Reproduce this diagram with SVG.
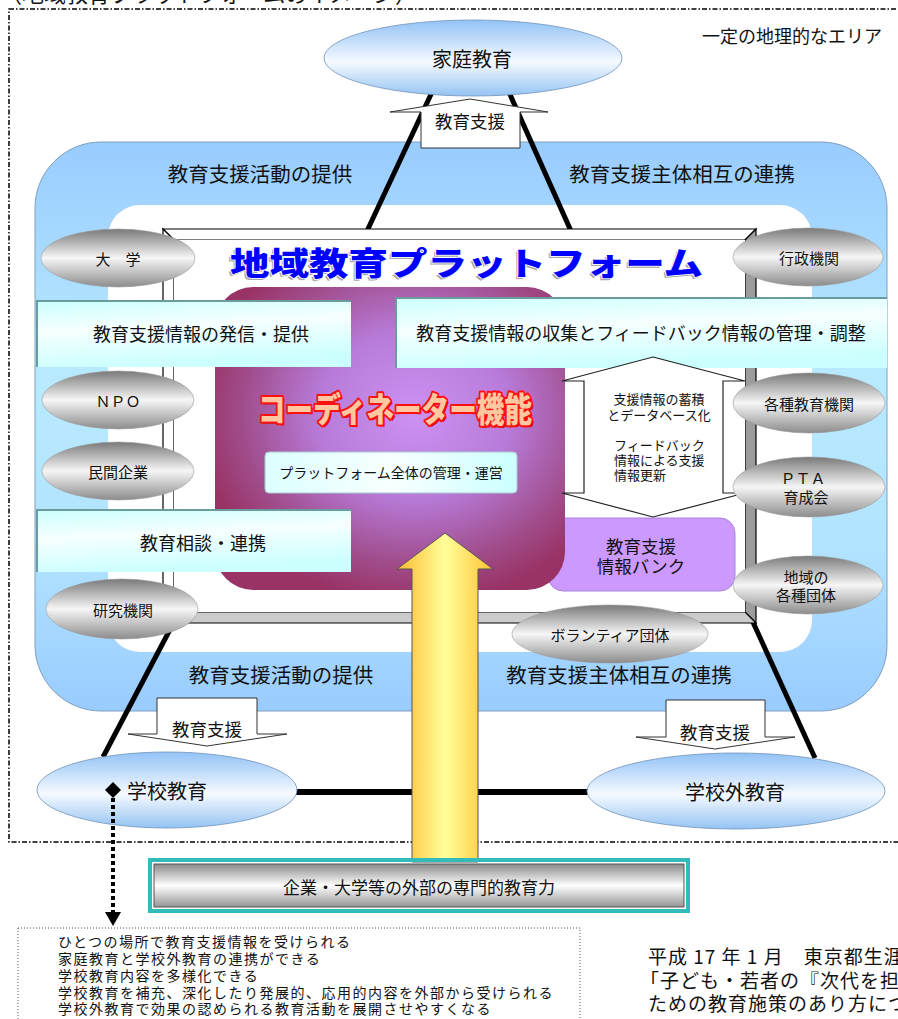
<svg xmlns="http://www.w3.org/2000/svg" width="898" height="1019" viewBox="0 0 898 1019">
<defs>
  <linearGradient id="gBlueEll" x1="0" y1="0" x2="0" y2="1">
    <stop offset="0" stop-color="#92c2f6"/>
    <stop offset="0.55" stop-color="#f6faff"/>
    <stop offset="1" stop-color="#94c3f3"/>
  </linearGradient>
  <linearGradient id="gGray" x1="0" y1="0" x2="0" y2="1">
    <stop offset="0" stop-color="#7a7a7a"/>
    <stop offset="0.5" stop-color="#f6f6f6"/>
    <stop offset="1" stop-color="#8c8c8c"/>
  </linearGradient>
  <linearGradient id="gArea" x1="0" y1="0" x2="0" y2="1">
    <stop offset="0" stop-color="#99ccff"/>
    <stop offset="0.4" stop-color="#b8eaff"/>
    <stop offset="0.7" stop-color="#b3e4ff"/>
    <stop offset="1" stop-color="#99ccff"/>
  </linearGradient>
  <linearGradient id="gBanner" x1="0" y1="0" x2="0.25" y2="1">
    <stop offset="0" stop-color="#ccffff"/>
    <stop offset="0.45" stop-color="#f6ffff"/>
    <stop offset="1" stop-color="#ccffff"/>
  </linearGradient>
  <linearGradient id="gMgmt" x1="0" y1="0" x2="1" y2="0">
    <stop offset="0" stop-color="#dcffff"/>
    <stop offset="0.5" stop-color="#f8ffff"/>
    <stop offset="1" stop-color="#ccffff"/>
  </linearGradient>
  <radialGradient id="gCoord" cx="0.57" cy="0.42" r="0.62">
    <stop offset="0" stop-color="#cc92f2"/>
    <stop offset="0.45" stop-color="#b77ad8"/>
    <stop offset="0.8" stop-color="#a04c8a"/>
    <stop offset="1" stop-color="#993366"/>
  </radialGradient>
  <linearGradient id="gYellow" x1="0" y1="0" x2="1" y2="0">
    <stop offset="0" stop-color="#ffb830"/>
    <stop offset="0.5" stop-color="#ffff99"/>
    <stop offset="1" stop-color="#ffc030"/>
  </linearGradient>
  <linearGradient id="gMetal" x1="0" y1="0" x2="0" y2="1">
    <stop offset="0" stop-color="#8a8a8a"/>
    <stop offset="0.5" stop-color="#ffffff"/>
    <stop offset="1" stop-color="#959595"/>
  </linearGradient>
  <style>
    .t { font-family: "Noto Sans CJK JP", "Noto Sans CJK SC", sans-serif; fill: #111; }
    .c { text-anchor: middle; dominant-baseline: central; }
    .blueEll { fill: url(#gBlueEll); stroke: #6f92b8; stroke-width: 0.8; }
    .grayEll { fill: url(#gGray); stroke: #9a9a9a; stroke-width: 0.6; }
    .banner { fill: url(#gBanner); }
    .bannerEdge { fill: none; stroke: #6a9c9c; stroke-width: 2; }
    .conn { stroke: #000; stroke-width: 5; fill: none; }
    .blockArrow { fill: #fff; stroke: #333; stroke-width: 1; }
    .n15 { font-size: 15px; }
    .merit { font-size: 14px; letter-spacing: 1.5px; dominant-baseline: central; }
  </style>
</defs>

<!-- area frame -->
<rect x="9" y="9" width="905" height="833" fill="none" stroke="#000" stroke-width="1.5" stroke-dasharray="5 2 1.5 2"/>
<text class="t" x="0" y="1.5" font-size="22">（地域教育プラットフォームのイメージ）</text>
<text class="t c" x="792" y="35" font-size="18">一定の地理的なエリア</text>

<!-- blue area -->
<g id="area">
  <rect x="35" y="142" width="852" height="569" rx="66" ry="66" fill="url(#gArea)" stroke="#7f9fbf" stroke-width="1"/>
  <rect x="108" y="205" width="704" height="447" rx="32" ry="32" fill="#fff"/>
  <text class="t c" x="260" y="173" font-size="20.5">教育支援活動の提供</text>
  <text class="t c" x="682" y="173" font-size="20.5">教育支援主体相互の連携</text>
  <text class="t c" x="281" y="674" font-size="20.5">教育支援活動の提供</text>
  <text class="t c" x="619" y="674" font-size="20.5">教育支援主体相互の連携</text>
</g>

<!-- connectors -->
<g id="connectors">
  <line class="conn" x1="433" y1="90" x2="367" y2="231"/>
  <line class="conn" x1="508" y1="90" x2="571" y2="231"/>
  <line class="conn" x1="175" y1="620" x2="103" y2="757"/>
  <line class="conn" x1="752" y1="620" x2="815" y2="758"/>
  <line x1="296" y1="792" x2="590" y2="792" stroke="#000" stroke-width="6"/>
</g>

<!-- platform frame -->
<g id="platform">
  <polygon points="163,229 756,229 745,240 174,240" fill="#fff" stroke="#000" stroke-width="1.2"/>
  <polygon points="163,229 174,240 174,612 163,623" fill="#fff" stroke="#000" stroke-width="1.2"/>
  <polygon points="756,229 756,623 745,612 745,240" fill="#9c9c9c" stroke="#000" stroke-width="1.2"/>
  <polygon points="163,623 756,623 745,612 174,612" fill="#cccccc" stroke="#000" stroke-width="1.2"/>
  <rect x="174" y="240" width="571" height="372" fill="#fff"/>
  <text x="228" y="277" font-family="'Noto Sans CJK JP', sans-serif" font-size="32" font-weight="900" fill="#a8a8a8" textLength="473" lengthAdjust="spacingAndGlyphs">地域教育プラットフォーム</text>
  <text x="230" y="275" font-family="'Noto Sans CJK JP', sans-serif" font-size="32" font-weight="900" fill="#0000ff" stroke="#ffffff" stroke-width="1.5" paint-order="stroke" textLength="473" lengthAdjust="spacingAndGlyphs">地域教育プラットフォーム</text>
</g>

<!-- information bank -->
<g id="bank">
  <rect x="548" y="518" width="187" height="73" rx="15" ry="15" fill="#cc99ff" stroke="#a784d8" stroke-width="1"/>
  <text class="t" font-size="17.5" text-anchor="middle" dominant-baseline="central"><tspan x="641" y="545">教育支援</tspan><tspan x="641" y="565">情報バンク</tspan></text>
</g>

<!-- coordinator -->
<g id="coordinator">
  <rect x="215" y="287" width="350" height="303" rx="38" ry="38" fill="url(#gCoord)"/>
  <text x="260" y="424" font-family="'Noto Sans CJK JP', sans-serif" font-size="34" font-weight="900" fill="#c00000" textLength="274" lengthAdjust="spacingAndGlyphs">コーディネーター機能</text>
  <text x="258" y="422" font-family="'Noto Sans CJK JP', sans-serif" font-size="34" font-weight="900" fill="#ffc8a0" stroke="#ff1010" stroke-width="4" paint-order="stroke" stroke-linejoin="round" textLength="274" lengthAdjust="spacingAndGlyphs">コーディネーター機能</text>
</g>

<g id="mgmt">
  <rect x="265" y="452" width="252" height="41" rx="4" ry="4" fill="url(#gMgmt)" stroke="#a8cccc" stroke-width="1"/>
  <text class="t c" x="391" y="472" font-size="14">プラットフォーム全体の管理・運営</text>
</g>

<!-- banners -->
<g id="banner1">
  <rect class="banner" x="37" y="301" width="314" height="66"/>
  <polyline class="bannerEdge" points="37,367 37,301 351,301"/>
  <text class="t c" x="201" y="333" font-size="18">教育支援情報の発信・提供</text>
</g>
<g id="banner2">
  <rect class="banner" x="396" y="298" width="491" height="70"/>
  <polyline class="bannerEdge" points="396,368 396,298 887,298"/>
  <text class="t c" x="641" y="332" font-size="18">教育支援情報の収集とフィードバック情報の管理・調整</text>
</g>
<g id="banner3">
  <rect class="banner" x="37" y="510" width="314" height="62"/>
  <polyline class="bannerEdge" points="37,572 37,510 351,510"/>
  <text class="t c" x="203" y="542" font-size="18">教育相談・連携</text>
</g>

<!-- double arrow: database -->
<g id="database">
  <polygon points="653,357 745,381 723,381 723,493 745,493 653,517 562,493 584,493 584,381 562,381" fill="#fff" stroke="#222" stroke-width="1.2"/>
  <text class="t" font-size="13" text-anchor="middle" dominant-baseline="central"><tspan x="659" y="398">支援情報の蓄積</tspan><tspan x="659" y="414">とデータベース化</tspan></text>
  <text class="t" font-size="13" dominant-baseline="central"><tspan x="614" y="444">フィードバック</tspan><tspan x="614" y="459">情報による支援</tspan><tspan x="614" y="474">情報更新</tspan></text>
</g>

<!-- external power arrow -->
<g id="externalArrow">
  <polygon points="445,533 493,569 478,569 478,862 412,862 412,569 397,569" fill="url(#gYellow)" stroke="#555" stroke-width="1"/>
</g>

<!-- gray nodes -->
<g id="node-daigaku">
  <ellipse class="grayEll" cx="118" cy="258" rx="77" ry="29"/>
  <text class="t c n15" x="118" y="258">大　学</text>
</g>
<g id="node-gyosei">
  <ellipse class="grayEll" cx="808" cy="257" rx="75" ry="29"/>
  <text class="t c n15" x="809" y="257">行政機関</text>
</g>
<g id="node-npo">
  <ellipse class="grayEll" cx="118" cy="400" rx="76" ry="29"/>
  <text class="t c n15" x="118" y="400">ＮＰＯ</text>
</g>
<g id="node-kigyo">
  <ellipse class="grayEll" cx="118" cy="471" rx="76" ry="29"/>
  <text class="t c n15" x="118" y="471">民間企業</text>
</g>
<g id="node-kenkyu">
  <ellipse class="grayEll" cx="122" cy="609" rx="76" ry="30"/>
  <text class="t c n15" x="123" y="609">研究機関</text>
</g>
<g id="node-kakushu">
  <ellipse class="grayEll" cx="809" cy="403" rx="76" ry="30"/>
  <text class="t c n15" x="809" y="403">各種教育機関</text>
</g>
<g id="node-pta">
  <ellipse class="grayEll" cx="809" cy="487" rx="76" ry="30"/>
  <text class="t n15" text-anchor="middle" dominant-baseline="central"><tspan x="803" y="477">ＰＴＡ</tspan><tspan x="806" y="496">育成会</tspan></text>
</g>
<g id="node-chiiki">
  <ellipse class="grayEll" cx="808" cy="585" rx="75" ry="29"/>
  <text class="t n15" text-anchor="middle" dominant-baseline="central"><tspan x="806" y="576">地域の</tspan><tspan x="806" y="594">各種団体</tspan></text>
</g>
<g id="node-volunteer">
  <ellipse class="grayEll" cx="610" cy="634" rx="98" ry="29"/>
  <text class="t c n15" x="610" y="634">ボランティア団体</text>
</g>

<!-- blue education nodes -->
<g id="node-katei">
  <ellipse class="blueEll" cx="473" cy="58" rx="149" ry="38"/>
  <text class="t c" x="472" y="58" font-size="20">家庭教育</text>
</g>
<g id="node-gakko">
  <ellipse class="blueEll" cx="167" cy="790" rx="130" ry="38"/>
  <polygon points="113,782 121,790 113,798 105,790" fill="#000"/>
  <text class="t c" x="167" y="790" font-size="20">学校教育</text>
</g>
<g id="node-gakkogai">
  <ellipse class="blueEll" cx="736" cy="791" rx="149" ry="38"/>
  <text class="t c" x="735" y="791" font-size="20">学校外教育</text>
</g>

<!-- support arrows -->
<g id="support-top">
  <polygon class="blockArrow" points="421,148 421,112 390,112 470,99 548,112 520,112 520,148"/>
  <text class="t c" x="470" y="120" font-size="17.5">教育支援</text>
</g>
<g id="support-left">
  <polygon class="blockArrow" points="157,698 257,698 257,734 287,734 207,746 128,734 157,734"/>
  <text class="t c" x="207" y="728" font-size="17.5">教育支援</text>
</g>
<g id="support-right">
  <polygon class="blockArrow" points="666,700 765,700 765,737 795,737 715,749 636,737 666,737"/>
  <text class="t c" x="715" y="731" font-size="17.5">教育支援</text>
</g>

<!-- external box -->
<g id="external">
  <rect x="150" y="860" width="538" height="51" fill="none" stroke="#33bbbb" stroke-width="4"/>
  <rect x="154" y="864" width="530" height="43" fill="url(#gMetal)" stroke="#555" stroke-width="1"/>
  <text class="t c" x="419" y="886" font-size="17">企業・大学等の外部の専門的教育力</text>
</g>

<!-- dotted arrow to merits -->
<g id="merit-link">
  <line x1="113" y1="798" x2="113" y2="913" stroke="#000" stroke-width="4" stroke-dasharray="4 3"/>
  <polygon points="105,912 121,912 113,926" fill="#000"/>
</g>

<g id="merits">
  <rect x="18" y="928" width="562" height="100" fill="none" stroke="#555" stroke-width="1" stroke-dasharray="1 2"/>
  <text class="t merit"><tspan x="58" y="941">ひとつの場所で教育支援情報を受けられる</tspan><tspan x="58" y="958">家庭教育と学校外教育の連携ができる</tspan><tspan x="58" y="975">学校教育内容を多様化できる</tspan><tspan x="58" y="992">学校教育を補充、深化したり発展的、応用的内容を外部から受けられる</tspan><tspan x="58" y="1008">学校外教育で効果の認められる教育活動を展開させやすくなる</tspan></text>
</g>

<g id="source">
  <text class="t" font-size="19" letter-spacing="1" dominant-baseline="central"><tspan x="648" y="955">平成 17 年 1 月　東京都生涯</tspan><tspan x="640" y="979">「子ども・若者の『次代を担</tspan><tspan x="648" y="1002">ための教育施策のあり方につ</tspan></text>
</g>
</svg>
